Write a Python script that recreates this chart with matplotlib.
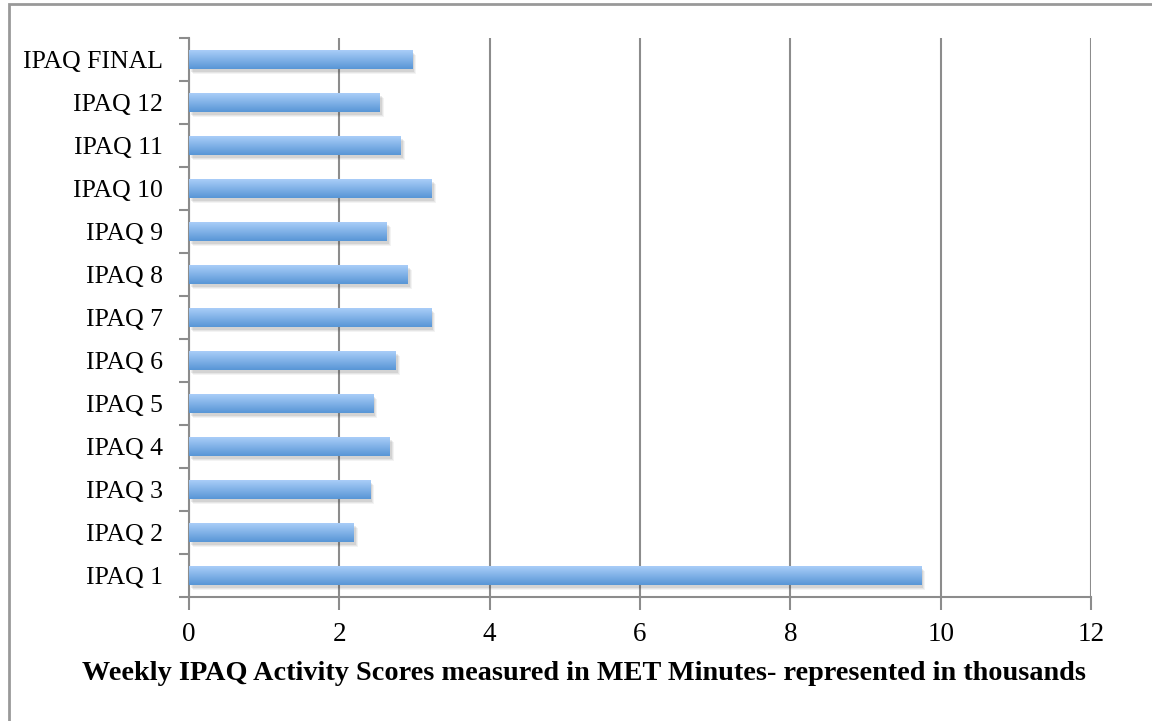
import matplotlib.pyplot as plt
import matplotlib.transforms as mtransforms
import numpy as np
from matplotlib.colors import LinearSegmentedColormap
from matplotlib.patches import Rectangle

labels = ["IPAQ 1", "IPAQ 2", "IPAQ 3", "IPAQ 4", "IPAQ 5", "IPAQ 6", "IPAQ 7",
          "IPAQ 8", "IPAQ 9", "IPAQ 10", "IPAQ 11", "IPAQ 12", "IPAQ FINAL"]
scores = [9.74, 2.19, 2.41, 2.67, 2.45, 2.75, 3.22, 2.91, 2.63, 3.23, 2.82, 2.54, 2.97]
xticks = [0, 2, 4, 6, 8, 10, 12]

plt.rcParams['font.family'] = ['Liberation Serif', 'DejaVu Serif']

W, H = 1152, 721
fig = plt.figure(figsize=(W / 100, H / 100), dpi=100)
ax = fig.add_axes([189 / W, 1 - 597 / H, 902 / W, 559 / H])

# outer frame: only top and left edges fall inside the picture
fig.patches.append(Rectangle((8.5 / W, -0.2), 1.5, 1.2 - 4 / H,
                             transform=fig.transFigure, fill=False,
                             edgecolor='#999999', lw=2, zorder=0))

grad = LinearSegmentedColormap.from_list('bar', ['#5896d6', '#a9cdf8'])
g = np.linspace(0, 1, 64).reshape(-1, 1)
h = 0.42
y = np.arange(len(labels))

for yi, v in zip(y, scores):
    # soft shadow
    for dx, dy, a in [(2, -3, 0.10), (3, -4, 0.08), (4, -5, 0.06)]:
        tr = mtransforms.offset_copy(ax.transData, fig=fig, x=dx, y=dy, units='dots')
        ax.barh(yi, v, height=h, color='#404040', alpha=a, lw=0, transform=tr, zorder=2)
    ax.imshow(g, cmap=grad, aspect='auto', origin='lower',
              extent=[0, v, yi - h / 2, yi + h / 2], zorder=3, interpolation='bilinear')

ax.set_xlim(0, 12)
ax.set_ylim(-0.5, len(labels) - 0.5)
ax.set_xticks(xticks)
ax.set_yticks(y)
ax.set_yticklabels(labels)
ax.set_yticks(np.arange(-0.5, len(labels)), minor=True)

ax.grid(axis='x', color='#8c8c8c', lw=1.5, zorder=1)
ax.set_axisbelow(True)
for s in ['top', 'right']:
    ax.spines[s].set_visible(False)
for s in ['left', 'bottom']:
    ax.spines[s].set_color('#8c8c8c')
    ax.spines[s].set_linewidth(1.5)

ax.tick_params(axis='y', which='major', length=0, pad=19, labelsize=18.5)
ax.tick_params(axis='y', which='minor', length=7, width=1.5, color='#8c8c8c')
ax.tick_params(axis='x', length=9, width=1.5, color='#8c8c8c', pad=9, labelsize=19.5)

ax.set_xlabel("Weekly IPAQ Activity Scores measured in MET Minutes- represented in thousands",
              fontsize=20.3, fontweight='bold')
ax.xaxis.set_label_coords((584 - 189) / 902, (597 - 673) / 559)
ax.xaxis.label.set_va('center')

fig.savefig("out.png", dpi=100)
